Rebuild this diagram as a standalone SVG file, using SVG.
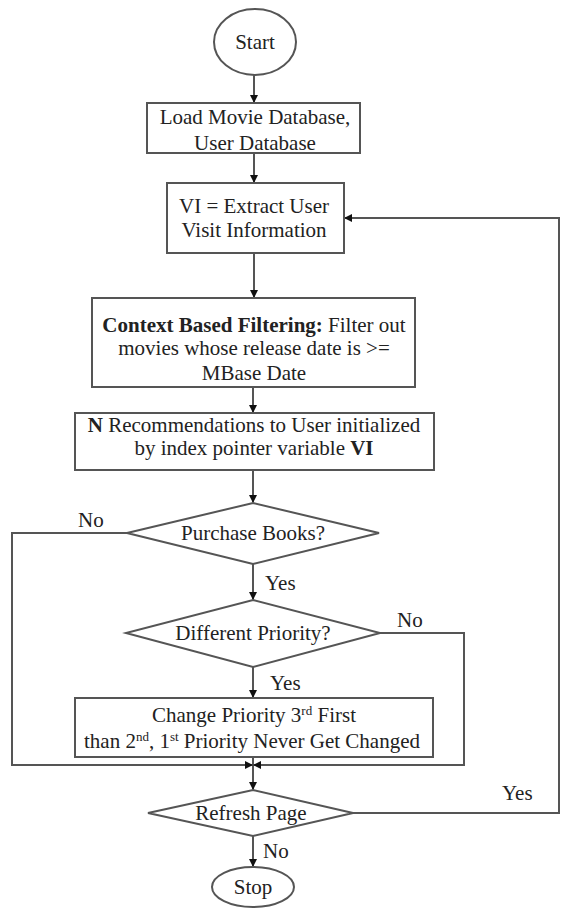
<svg xmlns="http://www.w3.org/2000/svg" width="561" height="909" viewBox="0 0 561 909">
<style>
.shape{fill:#fff;stroke:#555;stroke-width:2}
.t{font-family:"Liberation Serif","Times New Roman",serif;font-size:21px;fill:#222;text-anchor:middle}
.l{font-family:"Liberation Serif","Times New Roman",serif;font-size:21px;fill:#222}
.b{font-weight:bold}
.c{fill:none;stroke:#555;stroke-width:2}
.sup{font-size:13px}
</style>
<defs>
<marker id="arr" markerWidth="8" markerHeight="8" refX="7" refY="4" orient="auto" markerUnits="userSpaceOnUse">
<path d="M0,0 L8,4 L0,8 z" fill="#111"/>
</marker>
</defs>
<rect width="561" height="909" fill="#fff"/>
<g id="connectors">
<line class="c" x1="254" y1="75" x2="254" y2="102" marker-end="url(#arr)"/>
<line class="c" x1="254" y1="153" x2="254" y2="182" marker-end="url(#arr)"/>
<line class="c" x1="254" y1="253" x2="254" y2="297" marker-end="url(#arr)"/>
<line class="c" x1="253" y1="387" x2="253" y2="412" marker-end="url(#arr)"/>
<line class="c" x1="253" y1="470" x2="253" y2="502" marker-end="url(#arr)"/>
<line class="c" x1="253" y1="564" x2="253" y2="599" marker-end="url(#arr)"/>
<line class="c" x1="253" y1="667" x2="253" y2="697" marker-end="url(#arr)"/>
<line class="c" x1="253" y1="757" x2="253" y2="789" marker-end="url(#arr)"/>
<polyline class="c" points="127,533 12,533 12,765 252,765" marker-end="url(#arr)"/>
<polyline class="c" points="380,633 464,633 464,765 254,765" marker-end="url(#arr)"/>
<line class="c" x1="253" y1="836" x2="253" y2="866" marker-end="url(#arr)"/>
<polyline class="c" points="353,813 559,813 559,218 345,218" marker-end="url(#arr)"/>
<text class="l" x="78" y="527">No</text>
<text class="l" x="265" y="590">Yes</text>
<text class="l" x="397" y="627">No</text>
<text class="l" x="270" y="690">Yes</text>
<text class="l" x="502" y="800">Yes</text>
<text class="l" x="263" y="858">No</text>
</g>
<g id="start">
<ellipse class="shape" cx="255" cy="42" rx="41" ry="33"/>
<text class="t" x="255" y="49">Start</text>
</g>
<g id="load">
<rect class="shape" x="147" y="103" width="213" height="50"/>
<text class="t" x="255" y="124">Load Movie Database,</text>
<text class="t" x="255" y="150">User Database</text>
</g>
<g id="extract">
<rect class="shape" x="167" y="183" width="177" height="70"/>
<text class="t" x="254" y="213">VI = Extract User</text>
<text class="t" x="254" y="237">Visit Information</text>
</g>
<g id="filter">
<rect class="shape" x="92" y="298" width="323" height="89"/>
<text class="t" x="254" y="332"><tspan class="b">Context Based Filtering:</tspan> Filter out</text>
<text class="t" x="254" y="355">movies whose release date is &gt;=</text>
<text class="t" x="254" y="380">MBase Date</text>
</g>
<g id="recommend">
<rect class="shape" x="75" y="413" width="359" height="57"/>
<text class="t" x="254" y="432"><tspan class="b">N</tspan> Recommendations to User initialized</text>
<text class="t" x="254" y="455">by index pointer variable <tspan class="b">VI</tspan></text>
</g>
<g id="purchase">
<polygon class="shape" points="253,503 379,533 253,564 127,533"/>
<text class="t" x="253" y="540">Purchase Books?</text>
</g>
<g id="priority">
<polygon class="shape" points="253,600 380,633 253,667 126,633"/>
<text class="t" x="253" y="640">Different Priority?</text>
</g>
<g id="change">
<rect class="shape" x="75" y="698" width="358" height="59"/>
<text class="t" x="254" y="722">Change Priority 3<tspan class="sup" dy="-7">rd</tspan><tspan dy="7"> First</tspan></text>
<text class="t" x="252" y="748">than 2<tspan class="sup" dy="-7">nd</tspan><tspan dy="7">, 1</tspan><tspan class="sup" dy="-7">st</tspan><tspan dy="7"> Priority Never Get Changed</tspan></text>
</g>
<g id="refresh">
<polygon class="shape" points="253,790 353,813 253,836 148,813"/>
<text class="t" x="251" y="820">Refresh Page</text>
</g>
<g id="stop">
<ellipse class="shape" cx="253" cy="887" rx="41" ry="20"/>
<text class="t" x="253" y="894">Stop</text>
</g>
</svg>
